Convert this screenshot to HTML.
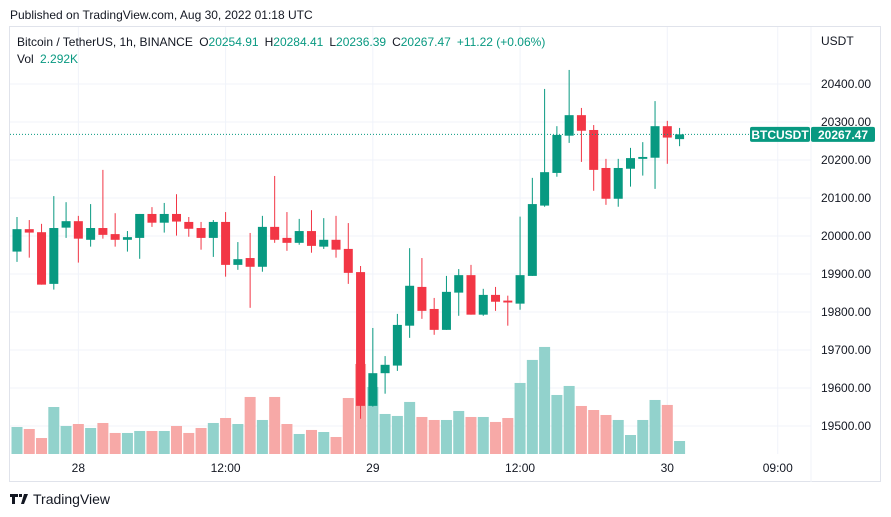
<!DOCTYPE html>
<html><head><meta charset="utf-8">
<style>
body{margin:0;background:#fff;width:891px;height:517px;overflow:hidden;font-family:"Liberation Sans",sans-serif;}
svg{position:absolute;left:0;top:0}
text{font-family:"Liberation Sans",sans-serif}
</style></head>
<body>
<svg id="chart" width="891" height="517" xmlns="http://www.w3.org/2000/svg">
<text x="10" y="19" font-size="12" fill="#131722">Published on TradingView.com, Aug 30, 2022 01:18 UTC</text>
<rect x="9.5" y="26.5" width="871" height="455" fill="none" stroke="#e0e3eb"/>
<g id="grid"></g>
<g id="vol"></g>
<g id="candles"></g>
<g id="axis"></g>
<g id="taxis"></g>
<text x="17" y="46" font-size="12" fill="#131722">Bitcoin / TetherUS, 1h, BINANCE <tspan dx="3">O</tspan><tspan fill="#089981">20254.91</tspan><tspan dx="6">H</tspan><tspan fill="#089981">20284.41</tspan><tspan dx="6">L</tspan><tspan fill="#089981">20236.39</tspan><tspan dx="6">C</tspan><tspan fill="#089981">20267.47</tspan><tspan dx="6" fill="#089981">+11.22 (+0.06%)</tspan></text>
<text x="17" y="63" font-size="12" fill="#131722">Vol <tspan dx="3" fill="#089981">2.292K</tspan></text>
<text x="821" y="45" font-size="12" fill="#131722">USDT</text>
<g>
<path d="M10 494h8v3h-3v7h-3v-7h-2z M19 494h3v3h-3z M24 494h4l-4 10h-3z" fill="#131722"/>
<text x="33" y="504" font-size="14" fill="#131722">TradingView</text>
</g>
</svg>
<script>
const opens=[19959,20018,20010,19874,20022,20039,19990,20021,20005,19990,19995,20058,20035,20058,20037,20021,19995,20037,19924,19942,19919,20024,19995,19982,20013,19972,19990,19966,19905,19553,19639,19659,19764,19866,19808,19753,19851,19897,19793,19845,19830,19822,19895,20080,20166,20264,20318,20279,20179,20098,20177,20203,20206,20289,20254.91];
const highs=[20050,20042,20032,20105,20089,20053,20084,20174,20060,20013,20058,20076,20087,20110,20050,20037,20042,20063,19984,20008,20053,20158,20063,20045,20068,20047,20053,20034,19921,19758,19684,19795,19968,19942,19837,19895,19913,19924,19861,19866,19843,20051,20153,20387,20289,20437,20337,20292,20203,20203,20232,20247,20355,20303,20284.41];
const lows=[19932,19943,19872,19859,19995,19930,19972,19993,19972,19959,19940,20024,20009,20001,19998,19964,19945,19893,19911,19811,19906,19982,19961,19977,19956,19966,19943,19874,19519,19551,19585,19645,19732,19782,19740,19753,19790,19793,19790,19803,19764,19806,19895,20077,20156,20245,20195,20119,20082,20077,20130,20159,20124,20190,20236.39];
const closes=[20018,20009,19872,20021,20039,19993,20021,20003,19990,19997,20058,20035,20058,20038,20019,19995,20037,19924,19939,19919,20024,19990,19982,20013,19974,19990,19964,19903,19553,19639,19661,19766,19869,19803,19753,19853,19897,19793,19845,19827,19825,19897,20084,20168,20266,20318,20277,20174,20098,20179,20205,20208,20289,20259,20267.47];
const volumes=[4.76,4.41,2.82,8.29,4.94,5.29,4.59,5.47,3.71,3.71,4.06,4.06,4.06,4.94,3.71,4.59,5.47,6.35,5.29,10.06,6.0,10.06,5.29,3.53,4.24,3.88,3.0,9.88,15.88,11.82,7.06,6.71,9.18,6.53,6.0,6.0,7.59,6.53,6.53,5.65,6.35,12.53,16.59,18.88,10.41,12.0,8.47,7.76,6.88,6.0,3.35,6.0,9.53,8.65,2.292];
const priceTicks=[19500,19600,19700,19800,19900,20000,20100,20200,20300,20400];
const timeLabels=["28","12:00","29","12:00","30","09:00"];
const timeLabelIdx=[5,17,29,41,53,62];
const lastPrice=20267.47;

const NS="http://www.w3.org/2000/svg";
const X0=17,DX=12.27,PLOT_L=10,PLOT_R=811,PLOT_T=27,PLOT_B=454;
const yP=p=>84+(20400-p)*0.38;
const xI=i=>X0+i*DX;
const yV=v=>PLOT_B-v*5.67;
function mk(tag,attrs,parent){const e=document.createElementNS(NS,tag);for(const k in attrs)e.setAttribute(k,attrs[k]);parent.appendChild(e);return e;}
const grid=document.getElementById('grid'),vol=document.getElementById('vol'),cg=document.getElementById('candles'),ax=document.getElementById('axis'),tx=document.getElementById('taxis');
priceTicks.forEach(p=>{
  const l=mk('line',{x1:PLOT_L,x2:PLOT_R,y1:yP(p),y2:yP(p),stroke:'#f0f3fa'},grid);
  
  
  const t=mk('text',{x:821,y:yP(p)+4,'font-size':12,fill:'#131722'},ax);
  t.textContent=p.toFixed(2);
  
  
});
timeLabels.forEach((s,k)=>{
  const x=xI(timeLabelIdx[k]);
  const l=mk('line',{x1:x,x2:x,y1:PLOT_T,y2:PLOT_B,stroke:'#f0f3fa'},grid);
  
  
  const t=mk('text',{x:x,y:472,'font-size':12,fill:'#131722','text-anchor':'middle'},tx);
  t.textContent=s;
  
  
});
mk('line',{x1:PLOT_R,x2:PLOT_R,y1:PLOT_T,y2:PLOT_B+28,stroke:'#f0f3fa'},grid);
volumes.forEach((v,i)=>{
  const up=closes[i]>=opens[i];
  const r=mk('rect',{x:xI(i)-5.5,y:yV(v),width:11,height:PLOT_B-yV(v),fill:up?'#92d2cc':'#f7a9a7'},vol);
  
  
});
opens.forEach((o,i)=>{
  const c=closes[i],up=c>=o,col=up?'#089981':'#f23645',x=xI(i);
  const g=mk('g',{},cg);
  
  
  mk('line',{x1:x,x2:x,y1:yP(highs[i]),y2:yP(lows[i]),stroke:col,'stroke-width':1},g);
  const t=Math.min(yP(o),yP(c)),h=Math.max(1,Math.abs(yP(o)-yP(c)));
  mk('rect',{x:x-4.5,y:t,width:9,height:h,fill:col},g);
});
const ly=yP(lastPrice);
const pl=mk('line',{x1:PLOT_L,x2:750,y1:ly,y2:ly,stroke:'#089981','stroke-dasharray':'1 2'},cg);


const b1=mk('rect',{x:750,y:ly-7.5,width:60,height:15,rx:2,fill:'#089981'},ax);


const t1=mk('text',{x:780,y:ly+4.5,'font-size':12,'font-weight':'bold',fill:'#fff','text-anchor':'middle'},ax);
t1.textContent='BTCUSDT';


const b2=mk('rect',{x:811,y:ly-7.5,width:64,height:15,rx:2,fill:'#089981'},ax);


const t2=mk('text',{x:843,y:ly+4.5,'font-size':12,'font-weight':'bold',fill:'#fff','text-anchor':'middle'},ax);
t2.textContent=lastPrice.toFixed(2);


</script>
</body></html>
